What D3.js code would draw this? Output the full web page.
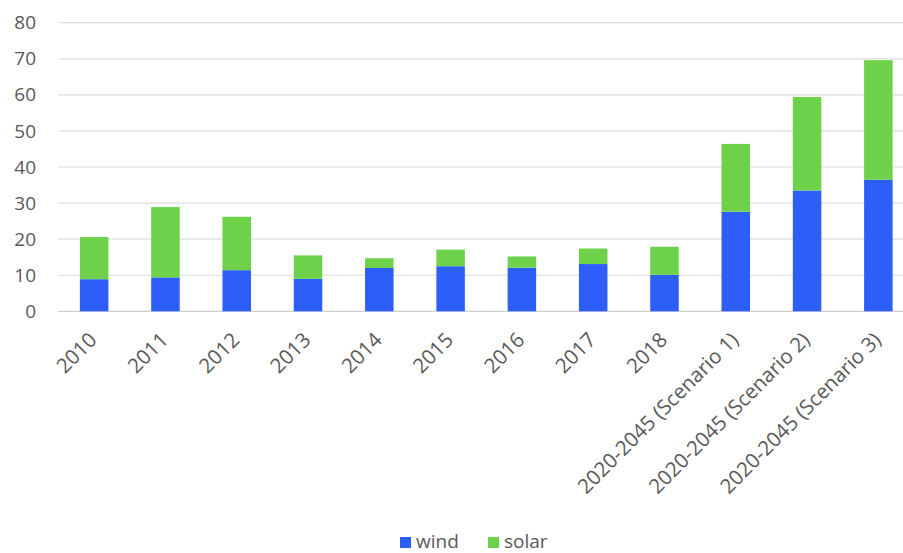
<!DOCTYPE html>
<html>
<head>
<meta charset="utf-8">
<script src="https://cdn.jsdelivr.net/npm/d3@7"></script>
<style>
  html, body { margin: 0; padding: 0; background: #ffffff; }
  svg { display: block; font-family: "Open Sans", "Noto Sans", sans-serif; }
</style>
</head>
<body>
<svg id="chart" width="903" height="553"></svg>
<script>
// Annual capacity additions by source
const categories = ["2010", "2011", "2012", "2013", "2014", "2015", "2016", "2017", "2018",
  "2020-2045 (Scenario 1)", "2020-2045 (Scenario 2)", "2020-2045 (Scenario 3)"];
const wind  = [8.9, 9.4, 11.4, 9.0, 12.0, 12.5, 12.1, 13.1, 10.1, 27.6, 33.5, 36.5];
const solar = [11.7, 19.5, 14.8, 6.5, 2.7, 4.6, 3.1, 4.3, 7.8, 18.8, 25.9, 33.1];
const seriesNames = ["wind", "solar"];
const seriesColors = ["#2d5ef9", "#6dd24a"];
const yTicks = [0, 10, 20, 30, 40, 50, 60, 70, 80];

const svg = d3.select("#chart");
const textColor = "#595959";

const x = d3.scaleBand().domain(categories).range([58.5, 914]).paddingInner(0.6).paddingOuter(0.3);
const y = d3.scaleLinear().domain([0, 80]).range([311.3, 22.7]);

// gridlines
svg.append("g")
  .selectAll("line")
  .data(yTicks)
  .join("line")
  .attr("x1", 58).attr("x2", 903)
  .attr("y1", d => y(d)).attr("y2", d => y(d))
  .attr("stroke", d => d === 0 ? "#d0d0d0" : "#dedede")
  .attr("stroke-width", 1.2);

// y axis labels
const yAxis = d3.axisLeft(y).tickValues(yTicks).tickSize(0).tickPadding(0);
svg.append("g")
  .attr("transform", "translate(36,0)")
  .call(yAxis)
  .call(g => g.select(".domain").remove())
  .call(g => g.selectAll("text")
    .attr("fill", textColor)
    .style("font-size", "19px")
    .style("font-family", "'Open Sans', sans-serif"));

// stacked bars
const rows = categories.map((c, i) => ({ category: c, wind: wind[i], solar: solar[i] }));
const stacked = d3.stack().keys(seriesNames)(rows);

svg.append("g")
  .selectAll("g")
  .data(stacked)
  .join("g")
  .attr("fill", (d, i) => seriesColors[i])
  .selectAll("rect")
  .data(d => d)
  .join("rect")
  .attr("x", d => x(d.data.category))
  .attr("width", x.bandwidth())
  .attr("y", d => y(d[1]))
  .attr("height", d => y(d[0]) - y(d[1]));

// x axis labels, rotated
const xAxis = d3.axisBottom(x).tickSize(0).tickPadding(0);
svg.append("g")
  .attr("transform", "translate(0,311.3)")
  .call(xAxis)
  .call(g => g.select(".domain").remove())
  .call(g => g.selectAll("text")
    .attr("fill", textColor)
    .style("font-size", "20.5px")
    .style("font-family", "'Open Sans', sans-serif")
    .attr("text-anchor", "end")
    .attr("dy", "0")
    .attr("y", 0)
    .attr("transform", "translate(4,30) rotate(-45)"));

// legend
const legend = svg.append("g").attr("transform", "translate(400,537)");
const legendX = [0, 88];
seriesNames.forEach((name, i) => {
  const item = legend.append("g").attr("transform", `translate(${legendX[i]},0)`);
  item.append("rect").attr("width", 11).attr("height", 11).attr("fill", seriesColors[i]);
  item.append("text")
    .attr("x", 16).attr("y", 11)
    .attr("fill", textColor)
    .style("font-size", "19px")
    .text(name);
});
</script>
</body>
</html>
